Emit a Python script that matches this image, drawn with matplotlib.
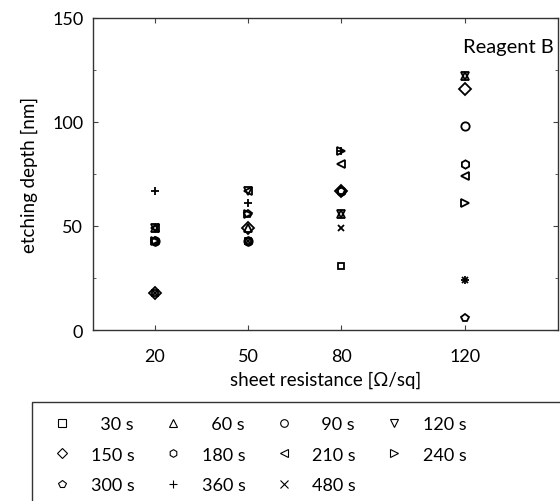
import numpy as np
import matplotlib.pyplot as plt
from matplotlib.patches import Rectangle

plt.rcParams['font.family'] = ['Lato', 'DejaVu Sans']

# sheet resistance [Ohm/sq]
resistance = [20, 50, 80, 120]

# etching time labels and markers
times = ['30 s', '60 s', '90 s', '120 s', '150 s', '180 s',
         '210 s', '240 s', '300 s', '360 s', '480 s']
markers = ['s', '^', 'o', 'v', 'D', 'h', '<', '>', 'p', '+', 'x']

# etching depth [nm], one list per time, one value per resistance
d_30 = [18, 43, 31, np.nan]
d_60 = [49, 49, 56, 122]
d_90 = [43, 43, 67, 98]
d_120 = [49, 67, 56, 122]
d_150 = [18, 49, 67, 116]
d_180 = [43, 43, 67, 80]
d_210 = [49, 67, 80, 74]
d_240 = [43, 56, 86, 61]
d_300 = [43, 56, 67, 6]
d_360 = [67, 61, 86, 24]
d_480 = [18, 43, 49, 24]
depths = [d_30, d_60, d_90, d_120, d_150, d_180,
          d_210, d_240, d_300, d_360, d_480]

W, H = 560, 502
fig = plt.figure(figsize=(W / 100, H / 100), dpi=100)
ax = fig.add_axes([93 / W, (H - 331) / H, 465 / W, 312 / H])

handles = []
for t, m, d in zip(times, markers, depths):
    h, = ax.plot(resistance, d, linestyle='none', marker=m,
                 markersize=5 if m in ('s', 'x') else 6,
                 markerfacecolor='none', markeredgecolor='black',
                 markeredgewidth=1.3, color='black', label=t)
    handles.append(h)

ax.set_xlim(0, 150)
ax.set_ylim(0, 150)
ax.set_xticks(resistance)
ax.set_yticks([0, 50, 100, 150])
ax.set_yticks([25, 75, 125], minor=True)
ax.tick_params(axis='both', which='both', direction='in', top=True,
               right=True, labelsize=13, color='#444444')
ax.tick_params(axis='y', pad=7)
ax.tick_params(axis='x', pad=13)
for s in ax.spines.values():
    s.set_linewidth(1.0)
    s.set_color('#333333')

ax.set_xlabel('sheet resistance [Ω/sq]', fontsize=13.5, labelpad=5)
ax.set_ylabel('etching depth [nm]', fontsize=13.5, labelpad=10)
ax.text(0.99, 0.91, 'Reagent B', transform=ax.transAxes, ha='right',
        va='center', fontsize=14.5)

# legend box running off the figure edge
fig.patches.append(Rectangle((32 / W, -0.05), 0.99, (H - 403) / H + 0.05,
                             transform=fig.transFigure, fill=False,
                             edgecolor='#333333', linewidth=1.0))

# matplotlib fills legend columns first, reorder so rows read 30, 60, 90...
order = [0, 4, 8, 1, 5, 9, 2, 6, 10, 3, 7]
labels = [('  ' + times[i]) if len(times[i]) == 4 else times[i] for i in order]
leg = fig.legend(handles=[handles[i] for i in order], labels=labels, ncol=4,
                 frameon=False, loc='upper left',
                 bbox_to_anchor=(37 / W, 1 - 401 / H),
                 fontsize=13, handlelength=1.0,
                 handletextpad=1.1, columnspacing=1.6, labelspacing=0.8)
for h in leg.legend_handles:
    h.set_markeredgewidth(0.8)
    h.set_markersize(5.5)

fig.savefig('out.png', dpi=100)
